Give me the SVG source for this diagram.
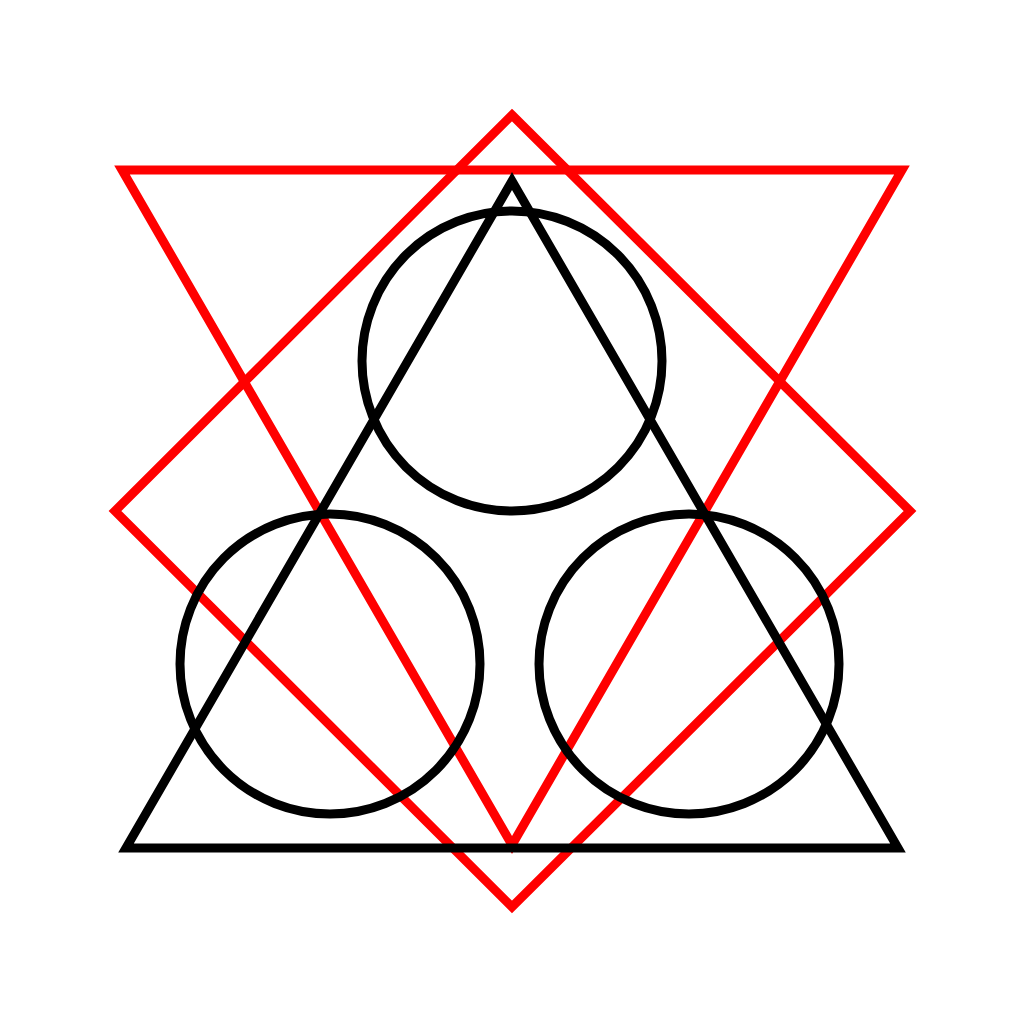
<svg xmlns="http://www.w3.org/2000/svg" width="1024" height="1024" viewBox="0 0 1024 1024">
<style>
.k{fill:none;stroke:#000;stroke-width:9;stroke-miterlimit:10}
.r{fill:none;stroke:#f00;stroke-width:9;stroke-miterlimit:10}
</style>
<rect width="1024" height="1024" fill="#fff"/>
<g id="red-diamond"><polygon class="r" points="512,115 910,511 512,907 115,511"/></g>
<g id="red-triangle"><polygon class="r" points="122,170 902,170 512,845"/></g>
<g id="black-triangle"><polygon class="k" points="512,181 898,848 126,848"/></g>
<g id="circle-top"><circle class="k" cx="512" cy="361" r="150"/></g>
<g id="circle-left"><circle class="k" cx="330" cy="664" r="150"/></g>
<g id="circle-right"><circle class="k" cx="689" cy="664" r="150"/></g>
</svg>
